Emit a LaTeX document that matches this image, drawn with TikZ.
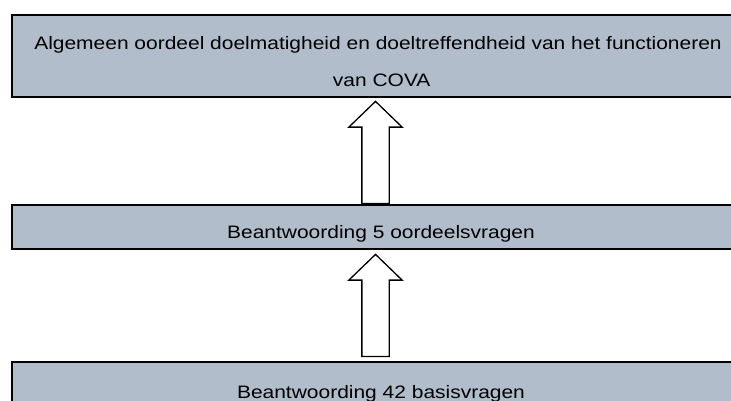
\documentclass[tikz,border=0pt]{standalone}
\usepackage{fontspec}
\setmainfont{Liberation Sans}
\newfontfamily\vakfont[FakeStretch=1.165]{Liberation Sans}
\usetikzlibrary{shapes.arrows}
\definecolor{vakgrijs}{HTML}{B2BDCB}
\newcommand{\FT}{\vakfont\fontsize{18}{22}\selectfont}

\begin{document}
\begin{tikzpicture}[x=1pt,y=1pt]
\tikzstyle{vak}=[draw=black,fill=vakgrijs,line width=2pt,minimum width=738pt,inner sep=0pt]
\tikzstyle{texto}=[font=\FT,inner sep=0pt,anchor=base]
\tikzstyle{pijl}=[single arrow,draw=black,fill=white,line width=1.3pt,inner xsep=0pt,inner ysep=13pt,single arrow head extend=13pt,single arrow tip angle=92,minimum height=102pt,rotate=90,anchor=tip]

\useasboundingbox (0,0) rectangle (731,-401);
\clip (0,0) rectangle (731,-401);

\node[vak,minimum height=82pt] (oordeel) at (381,-56) {};
\node[vak,minimum height=44pt] (vragen) at (381,-227) {};
\node[vak,minimum height=58pt] (basis) at (381,-391) {};

\node[pijl] (pijlA) at (375.5,-100.5) {};
\node[pijl] (pijlB) at (375.5,-253.5) {};

\node[texto] (regel1) at (378,-50) {Algemeen oordeel doelmatigheid en doeltreffendheid van het functioneren};
\node[texto] (regel2) at (381.7,-87) {van COVA};
\node[texto] (regel3) at (381,-238) {Beantwoording 5 oordeelsvragen};
\node[texto] (regel4) at (381,-398) {Beantwoording 42 basisvragen};
\end{tikzpicture}
\end{document}
